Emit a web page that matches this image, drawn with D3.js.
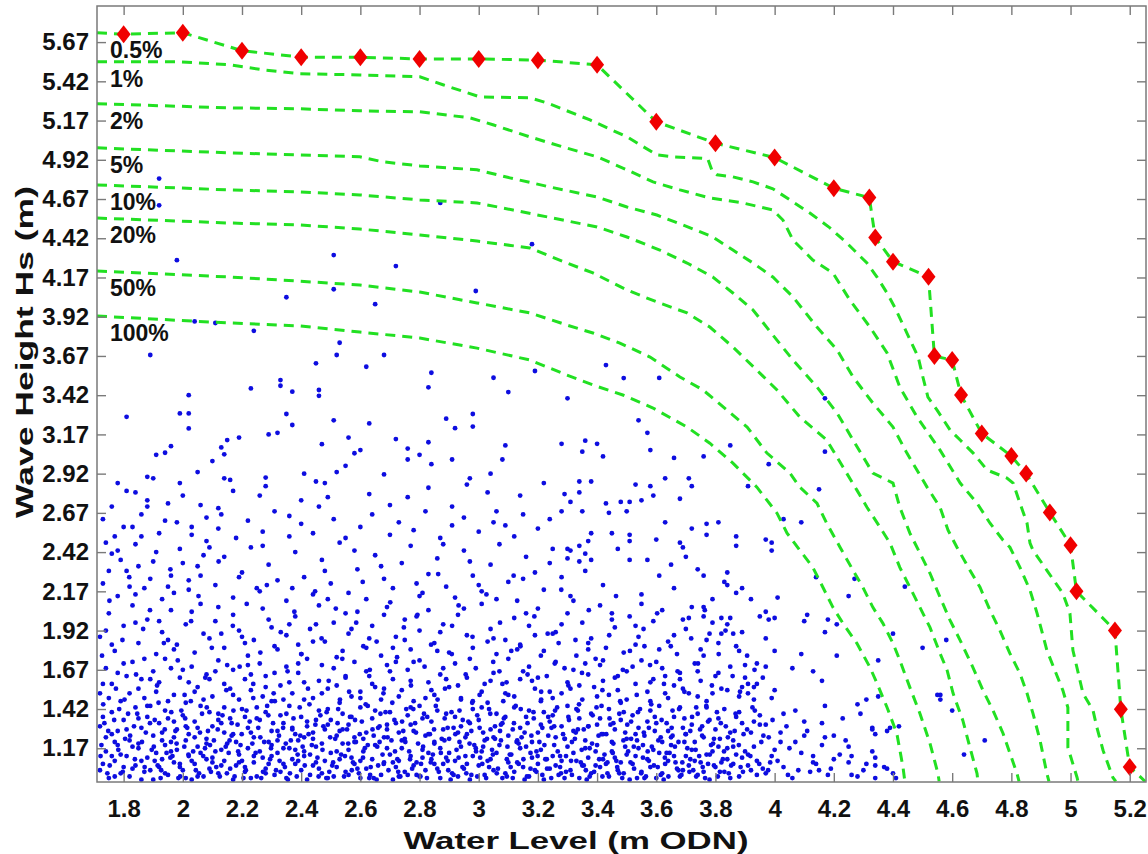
<!DOCTYPE html>
<html lang="en">
<head>
<meta charset="utf-8">
<title>Wave Height vs Water Level</title>
<script src="https://cdn.jsdelivr.net/npm/d3@7/dist/d3.min.js"></script>
<style>
  body { margin: 0; background: #fff; }
  svg { display: block; font-family: "Liberation Sans", Arial, sans-serif; }
  .axis path.domain { display: none; }
  .axis .tick line { stroke: #7a7a7a; stroke-width: 1.4; }
  .axis .tick text { font-size: 24px; font-weight: bold; fill: #111; }
  .frame { fill: none; stroke: #7a7a7a; stroke-width: 1.5; }
  .contour { fill: none; stroke: #22e022; stroke-width: 3; stroke-dasharray: 10 7; }
  .clabel { font-size: 23px; font-weight: bold; fill: #111; }
  .title { font-size: 24px; font-weight: bold; fill: #111; }
</style>
</head>
<body>
<svg id="chart" width="1148" height="854"></svg>
<script>
// axis ticks
const xTicks = [1.8, 2, 2.2, 2.4, 2.6, 2.8, 3, 3.2, 3.4, 3.6, 3.8, 4, 4.2, 4.4, 4.6, 4.8, 5, 5.2];
const yTicks = [1.17, 1.42, 1.67, 1.92, 2.17, 2.42, 2.67, 2.92, 3.17, 3.42, 3.67, 3.92, 4.17, 4.42, 4.67, 4.92, 5.17, 5.42, 5.67];

// contour names, top to bottom
const contourNames = ["0.5%", "1%", "2%", "5%", "10%", "20%", "50%", "100%"];

// red diamonds (0.5% contour vertices)
const diamonds = [[1.80,5.72],[2.0,5.73],[2.2,5.615],[2.4,5.574],[2.6,5.573],[2.8,5.563],[3.0,5.563],[3.2,5.555],[3.4,5.525],
  [3.6,5.162],[3.8,5.026],[4.0,4.934],[4.2,4.739],[4.32,4.679],[4.34,4.424],[4.40,4.271],[4.52,4.175],[4.54,3.669],
  [4.60,3.644],[4.63,3.421],[4.70,3.176],[4.80,3.032],[4.85,2.921],[4.93,2.673],[5.00,2.464],[5.02,2.17],[5.15,1.921],
  [5.17,1.418],[5.20,1.05]];

const line05 = [[1.71,5.73]].concat(diamonds, [[5.252,0.959]]);
const line1 = [[1.71,5.544],[1.99,5.544],[2.159,5.525],[2.271,5.493],[2.396,5.468],[2.598,5.461],[2.801,5.449],[2.879,5.398],
  [3.004,5.321],[3.173,5.315],[3.230,5.283],[3.376,5.174],[3.501,5.066],[3.602,4.951],[3.653,4.939],[3.737,4.932],[3.774,4.926],
  [3.79,4.843],[3.805,4.824],[3.859,4.811],[3.927,4.779],[3.994,4.735],[4.052,4.664],[4.119,4.581],[4.187,4.486],[4.244,4.390],
  [4.312,4.262],[4.346,4.173],[4.380,4.071],[4.407,3.976],[4.447,3.816],[4.485,3.663],[4.501,3.536],[4.518,3.408],[4.549,3.325],
  [4.593,3.198],[4.627,3.134],[4.671,3.051],[4.718,2.943],[4.785,2.892],[4.806,2.860],[4.829,2.732],[4.853,2.604],[4.863,2.477],
  [4.873,2.432],[4.920,2.304],[4.974,2.157],[4.998,2.030],[5.008,1.794],[5.042,1.520],[5.076,1.411],[5.089,1.303],[5.110,1.156],
  [5.143,0.984],[5.153,0.959]];
const line2 = [[1.71,5.277],[2.159,5.251],[2.396,5.245],[2.598,5.232],[2.801,5.226],[2.971,5.187],[3.048,5.143],[3.173,5.066],
  [3.284,5.002],[3.400,4.939],[3.501,4.856],[3.589,4.779],[3.680,4.728],[3.781,4.677],[3.892,4.645],[3.994,4.600],[4.028,4.536],
  [4.062,4.409],[4.129,4.281],[4.197,4.199],[4.254,4.027],[4.322,3.854],[4.380,3.689],[4.423,3.472],[4.481,3.281],[4.559,3.070],
  [4.627,2.860],[4.684,2.732],[4.728,2.604],[4.772,2.496],[4.795,2.451],[4.829,2.323],[4.863,2.177],[4.887,2.030],[4.920,1.794],
  [4.974,1.539],[4.991,1.430],[4.991,1.175],[5.022,0.984],[5.025,0.959]];
const line5 = [[1.71,4.996],[2.159,4.964],[2.396,4.951],[2.598,4.939],[2.676,4.907],[2.801,4.881],[2.994,4.856],[3.105,4.805],
  [3.240,4.747],[3.400,4.683],[3.501,4.619],[3.602,4.568],[3.690,4.505],[3.791,4.428],[3.859,4.345],[3.927,4.262],[3.994,4.173],
  [4.062,4.046],[4.143,3.854],[4.211,3.708],[4.265,3.536],[4.332,3.370],[4.400,3.217],[4.447,3.051],[4.515,2.834],[4.559,2.706],
  [4.586,2.560],[4.616,2.451],[4.660,2.304],[4.694,2.196],[4.728,2.049],[4.761,1.922],[4.795,1.775],[4.829,1.647],[4.853,1.520],
  [4.873,1.392],[4.897,1.220],[4.920,1.009],[4.927,0.959]];
const line10 = [[1.71,4.760],[2.159,4.728],[2.396,4.715],[2.598,4.696],[2.801,4.664],[2.994,4.645],[3.116,4.600],[3.284,4.536],
  [3.400,4.492],[3.501,4.428],[3.612,4.345],[3.704,4.262],[3.791,4.173],[3.859,4.071],[3.927,3.963],[3.994,3.803],[4.062,3.644],
  [4.143,3.472],[4.211,3.306],[4.265,3.134],[4.332,2.923],[4.400,2.860],[4.423,2.706],[4.457,2.541],[4.491,2.413],[4.525,2.285],
  [4.559,2.132],[4.593,1.985],[4.627,1.858],[4.670,1.686],[4.704,1.539],[4.738,1.411],[4.772,1.264],[4.819,1.009],[4.826,0.959]];
const line20 = [[1.71,4.549],[2.159,4.517],[2.396,4.505],[2.598,4.479],[2.801,4.441],[2.994,4.402],[3.173,4.358],[3.298,4.262],
  [3.386,4.199],[3.501,4.090],[3.602,4.014],[3.704,3.944],[3.781,3.854],[3.859,3.727],[3.950,3.561],[4.008,3.453],[4.085,3.281],
  [4.176,3.134],[4.231,2.962],[4.278,2.815],[4.312,2.706],[4.356,2.579],[4.390,2.477],[4.423,2.323],[4.457,2.196],[4.491,2.068],
  [4.525,1.940],[4.559,1.775],[4.583,1.666],[4.603,1.520],[4.636,1.347],[4.660,1.175],[4.684,1.009],[4.687,0.959]];
const line50 = [[1.71,4.211],[2.159,4.173],[2.328,4.154],[2.598,4.122],[2.801,4.077],[2.994,4.008],[3.173,3.944],[3.298,3.867],
  [3.386,3.816],[3.477,3.752],[3.579,3.663],[3.680,3.536],[3.758,3.453],[3.839,3.325],[3.907,3.217],[3.974,3.051],[4.052,2.923],
  [4.085,2.834],[4.143,2.732],[4.176,2.604],[4.221,2.451],[4.265,2.304],[4.298,2.196],[4.332,2.068],[4.366,1.966],[4.400,1.839],
  [4.423,1.731],[4.457,1.558],[4.491,1.392],[4.525,1.201],[4.552,1.009],[4.556,0.959]];
const line100 = [[1.71,3.924],[2.159,3.880],[2.396,3.861],[2.598,3.822],[2.801,3.784],[2.994,3.720],[3.173,3.644],[3.298,3.548],
  [3.386,3.485],[3.487,3.421],[3.589,3.338],[3.704,3.217],[3.781,3.114],[3.859,2.987],[3.940,2.834],[4.008,2.668],[4.042,2.541],
  [4.085,2.432],[4.129,2.323],[4.163,2.196],[4.197,2.068],[4.231,1.966],[4.278,1.839],[4.322,1.686],[4.346,1.584],[4.380,1.430],
  [4.413,1.264],[4.434,1.047],[4.440,0.959]];
const contourLines = [line05, line1, line2, line5, line10, line20, line50, line100];

const dotsLow = [
  [1.72,1.03],[1.74,1.15],[1.75,0.98],[1.77,1.09],[1.78,1.19],[1.79,1.01],[1.81,1.12],[1.82,0.99],[1.84,1.06],[1.85,1.17],[1.87,1.02],[1.88,1.11],[1.90,0.97],[1.91,1.14],[1.92,1.05],[1.94,1.19],[1.95,1.00],[1.97,1.08],[1.98,1.16],[2.00,1.03],
  [2.01,0.98],[2.02,1.12],[2.04,1.07],[2.05,1.18],[2.07,0.99],[2.08,1.10],[2.09,1.04],[2.11,1.15],[2.12,1.01],[2.14,1.09],[2.15,1.20],[2.17,0.97],[2.18,1.06],[2.19,1.13],[2.21,1.02],[2.22,1.17],[2.24,1.08],[2.25,0.99],[2.27,1.11],[2.28,1.04],
  [2.30,1.19],[2.31,1.00],[2.32,1.14],[2.34,1.07],[2.35,0.98],[2.37,1.10],[2.38,1.16],[2.40,1.03],[2.41,1.12],[2.42,0.97],[2.44,1.06],[2.45,1.18],[2.47,1.01],[2.48,1.09],[2.50,1.14],[2.51,0.99],[2.52,1.05],[2.54,1.20],[2.55,1.02],[2.57,1.11],
  [2.58,1.07],[2.60,0.98],[2.61,1.15],[2.62,1.04],[2.64,1.10],[2.65,1.19],[2.67,1.00],[2.68,1.08],[2.70,1.13],[2.71,0.97],[2.72,1.05],[2.74,1.17],[2.75,1.02],[2.77,1.12],[2.78,1.06],[2.80,0.99],[2.81,1.16],[2.82,1.03],[2.84,1.10],[2.85,1.20],
  [2.87,0.98],[2.88,1.07],[2.90,1.14],[2.91,1.01],[2.92,1.09],[2.94,1.18],[2.95,1.04],[2.97,0.97],[2.98,1.12],[3.00,1.06],[3.01,1.15],[3.02,1.00],[3.04,1.10],[3.05,1.03],[3.07,1.19],[3.08,0.98],[3.10,1.08],[3.11,1.13],[3.12,1.02],[3.14,1.17],
  [3.15,1.05],[3.17,0.99],[3.18,1.11],[3.20,1.07],[3.21,1.16],[3.22,0.97],[3.24,1.04],[3.25,1.12],[3.27,1.00],[3.28,1.09],[3.30,1.18],[3.31,1.03],[3.32,1.14],[3.34,0.98],[3.35,1.06],[3.37,1.11],[3.38,1.01],[3.40,1.19],[3.41,1.05],[3.42,1.10],
  [3.44,0.99],[3.45,1.15],[3.47,1.03],[3.48,1.08],[3.50,1.13],[3.51,0.97],[3.52,1.07],[3.54,1.17],[3.55,1.02],[3.57,1.10],[3.58,1.05],[3.60,0.98],[3.61,1.14],[3.62,1.01],[3.64,1.09],[3.65,1.19],[3.67,1.04],[3.68,0.99],[3.70,1.12],[3.71,1.06],
  [3.72,1.16],[3.74,1.00],[3.75,1.08],[3.77,1.13],[3.78,0.97],[3.80,1.05],[3.81,1.18],[3.83,1.02],[3.84,1.10],[3.86,1.07],[3.88,0.99],[3.90,1.15],[3.92,1.03],[3.94,1.09],[3.97,1.01],[3.99,1.12],[4.03,1.05],[4.06,0.98],[4.09,1.14],[4.12,1.02],
  [1.73,1.07],[1.76,1.12],[1.80,1.05],[1.83,1.18],[1.86,1.09],[1.89,1.03],[1.93,1.10],[1.96,1.15],[1.99,1.07],[2.03,0.97],[2.06,1.14],[2.10,1.08],[2.13,1.16],[2.16,1.04],[2.20,1.09],[2.23,0.98],[2.26,1.15],[2.29,1.07],[2.33,1.02],[2.36,1.17],
  [2.39,1.09],[2.43,1.13],[2.46,1.04],[2.49,0.98],[2.53,1.10],[2.56,1.16],[2.59,1.04],[2.63,0.98],[2.66,1.06],[2.69,1.17],[2.73,1.09],[2.76,1.00],[2.79,1.08],[2.83,1.14],[2.86,1.04],[2.89,1.11],[2.93,0.99],[2.96,1.07],[2.99,1.17],[3.03,1.09],
  [3.06,1.14],[3.09,1.01],[3.13,1.08],[3.16,1.18],[3.19,1.03],[3.23,1.10],[3.26,1.06],[3.29,0.98],[3.33,1.09],[3.36,1.17],[3.39,1.02],[3.43,1.07],[3.46,1.11],[3.49,1.01],[3.53,1.12],[3.56,0.98],[3.59,1.16],[3.63,1.07],[3.66,1.12],[3.69,1.03],
  [3.73,1.09],[3.76,1.02],[3.79,1.15],[3.82,1.08],[3.85,0.98],[3.87,1.13],[3.91,1.06],[3.93,1.18],[3.96,1.04],[4.01,1.09],[4.05,1.17],[4.08,1.03],[4.14,1.07],[4.18,1.00],[4.22,1.13],[4.28,0.99],
  [1.72,1.31],[1.74,1.24],[1.76,1.40],[1.78,1.28],[1.80,1.35],[1.82,1.22],[1.84,1.43],[1.86,1.30],[1.88,1.37],[1.90,1.25],[1.92,1.33],[1.94,1.41],[1.96,1.21],[1.98,1.29],[2.00,1.38],[2.02,1.26],[2.04,1.34],[2.06,1.44],[2.08,1.23],[2.10,1.31],
  [2.12,1.39],[2.14,1.27],[2.16,1.36],[2.18,1.21],[2.20,1.42],[2.22,1.30],[2.24,1.24],[2.26,1.35],[2.28,1.40],[2.30,1.28],[2.32,1.22],[2.34,1.33],[2.36,1.44],[2.38,1.26],[2.40,1.37],[2.42,1.31],[2.44,1.23],[2.46,1.41],[2.48,1.29],[2.50,1.35],
  [2.52,1.25],[2.54,1.39],[2.56,1.32],[2.58,1.21],[2.60,1.43],[2.62,1.27],[2.64,1.36],[2.66,1.30],[2.68,1.24],[2.70,1.40],[2.72,1.33],[2.74,1.22],[2.76,1.38],[2.78,1.28],[2.80,1.44],[2.82,1.25],[2.84,1.34],[2.86,1.41],[2.88,1.29],[2.90,1.23],
  [2.92,1.37],[2.94,1.31],[2.96,1.26],[2.98,1.42],[3.00,1.35],[3.02,1.22],[3.04,1.29],[3.06,1.39],[3.08,1.33],[3.10,1.25],[3.12,1.43],[3.14,1.30],[3.16,1.37],[3.18,1.21],[3.20,1.27],[3.22,1.40],[3.24,1.34],[3.26,1.24],[3.28,1.31],[3.30,1.44],
  [3.32,1.28],[3.34,1.36],[3.36,1.22],[3.38,1.39],[3.40,1.32],[3.42,1.26],[3.44,1.42],[3.46,1.29],[3.48,1.35],[3.50,1.23],[3.52,1.38],[3.54,1.30],[3.56,1.25],[3.58,1.41],[3.60,1.33],[3.62,1.21],[3.64,1.28],[3.66,1.37],[3.68,1.43],[3.70,1.26],
  [3.72,1.32],[3.74,1.39],[3.76,1.24],[3.78,1.35],[3.80,1.29],[3.83,1.42],[3.86,1.22],[3.89,1.33],[3.92,1.27],[3.95,1.38],[3.98,1.24],[4.04,1.31],[4.07,1.41],[4.11,1.28],[4.23,1.36],
  [1.73,1.37],[1.77,1.21],[1.81,1.29],[1.85,1.36],[1.89,1.44],[1.93,1.27],[1.97,1.34],[2.01,1.22],[2.05,1.30],[2.09,1.40],[2.13,1.33],[2.17,1.26],[2.21,1.37],[2.25,1.43],[2.29,1.21],[2.33,1.38],[2.37,1.29],[2.41,1.24],[2.45,1.35],[2.49,1.42],
  [2.53,1.28],[2.57,1.37],[2.61,1.23],[2.65,1.41],[2.69,1.32],[2.73,1.27],[2.77,1.43],[2.81,1.36],[2.85,1.21],[2.89,1.39],[2.93,1.27],[2.97,1.33],[3.01,1.43],[3.05,1.24],[3.09,1.37],[3.13,1.22],[3.17,1.41],[3.21,1.32],[3.25,1.38],[3.29,1.23],
  [3.33,1.42],[3.37,1.31],[3.41,1.36],[3.45,1.21],[3.49,1.40],[3.53,1.26],[3.57,1.34],[3.61,1.44],[3.65,1.24],[3.69,1.30],[3.73,1.21],[3.77,1.43],[3.81,1.36],[3.85,1.27],[3.88,1.40],[3.93,1.34]
];
const dotsLow2 = [
  [1.725,1.19],[1.735,1.33],[1.745,1.01],[1.76,1.26],[1.77,0.99],[1.785,1.42],[1.79,1.13],[1.805,1.23],[1.815,1.39],[1.83,1.04],[1.835,1.31],[1.85,1.20],[1.86,0.97],[1.875,1.27],[1.88,1.44],[1.895,1.16],[1.905,1.35],[1.915,1.06],[1.93,1.22],[1.94,1.01],
  [1.95,1.36],[1.965,1.12],[1.975,1.28],[1.985,0.98],[1.995,1.41],[2.005,1.18],[2.015,1.30],[2.03,1.09],[2.04,1.24],[2.05,0.99],[2.065,1.39],[2.075,1.17],[2.085,1.28],[2.095,1.02],[2.105,1.22],[2.12,1.35],[2.13,1.06],[2.14,1.43],[2.155,1.14],[2.165,1.25],
  [2.175,0.99],[2.185,1.32],[2.195,1.19],[2.21,1.05],[2.215,1.41],[2.23,1.27],[2.24,1.12],[2.25,1.36],[2.265,0.98],[2.275,1.21],[2.285,1.44],[2.295,1.10],[2.305,1.33],[2.315,1.03],[2.325,1.25],[2.34,1.17],[2.35,1.39],[2.355,0.97],[2.37,1.30],[2.38,1.07],
  [2.39,1.22],[2.395,1.43],[2.41,1.15],[2.42,1.34],[2.43,1.00],[2.44,1.27],[2.455,1.11],[2.465,1.38],[2.47,1.20],[2.485,0.98],[2.49,1.32],[2.505,1.06],[2.515,1.23],[2.525,1.42],[2.535,1.13],[2.545,0.99],[2.555,1.29],[2.565,1.37],[2.575,1.08],[2.585,1.21],
  [2.595,1.01],[2.605,1.34],[2.615,1.17],[2.625,1.44],[2.635,1.05],[2.645,1.25],[2.655,0.97],[2.665,1.31],[2.675,1.13],[2.685,1.40],[2.695,1.03],[2.705,1.22],[2.715,1.35],[2.725,1.10],[2.735,0.99],[2.745,1.28],[2.755,1.42],[2.765,1.15],[2.775,1.04],[2.785,1.33],
  [2.795,1.20],[2.805,1.07],[2.815,1.39],[2.825,0.98],[2.835,1.26],[2.845,1.13],[2.855,1.44],[2.865,1.02],[2.875,1.23],[2.885,1.36],[2.895,1.09],[2.905,0.97],[2.915,1.30],[2.925,1.16],[2.935,1.41],[2.945,1.05],[2.955,1.24],[2.965,1.34],[2.975,1.00],[2.985,1.19],
  [2.995,1.38],[3.005,1.11],[3.015,1.27],[3.025,0.98],[3.035,1.42],[3.045,1.16],[3.055,1.31],[3.065,1.04],[3.075,1.22],[3.085,1.36],[3.095,0.99],[3.105,1.13],[3.115,1.29],[3.125,1.44],[3.135,1.07],[3.145,1.24],[3.155,0.97],[3.165,1.33],[3.175,1.14],[3.185,1.40],
  [3.195,1.02],[3.205,1.21],[3.215,1.30],[3.225,1.10],[3.235,1.37],[3.245,0.98],[3.255,1.19],[3.265,1.43],[3.275,1.05],[3.285,1.26],[3.295,1.12],[3.305,1.35],[3.315,1.00],[3.325,1.23],[3.335,1.41],[3.345,1.08],[3.355,1.29],[3.365,0.97],[3.375,1.17],[3.385,1.38],
  [3.395,1.06],[3.405,1.25],[3.415,1.44],[3.425,1.13],[3.435,1.01],[3.445,1.32],[3.455,1.20],[3.465,1.09],[3.475,1.39],[3.485,0.98],[3.495,1.27],[3.505,1.15],[3.515,1.34],[3.525,1.04],[3.535,1.22],[3.545,1.42],[3.555,1.11],[3.565,0.99],[3.575,1.30],[3.585,1.18],
  [3.595,1.37],[3.605,1.05],[3.615,1.24],[3.625,0.97],[3.635,1.33],[3.645,1.14],[3.655,1.41],[3.665,1.08],[3.675,1.21],[3.685,1.00],[3.695,1.36],[3.705,1.17],[3.715,1.28],[3.725,1.03],[3.735,1.43],[3.745,1.12],[3.755,1.25],[3.765,0.98],[3.775,1.34],[3.785,1.19],
  [3.795,1.06],[3.805,1.40],[3.815,1.23],[3.825,1.10],[3.835,1.31],[3.845,1.01],[3.86,1.18],[3.87,1.37],[3.885,1.05],[3.895,1.26],[3.91,1.13],[3.925,1.43],[3.94,1.00],[3.955,1.21],[3.97,1.32],[3.985,1.08],[4.00,1.16],[4.02,1.27],[4.045,1.00],[4.07,1.21],
  [4.10,1.34],[4.13,1.12],[4.16,1.19],[4.19,1.04],[4.24,1.22],[4.31,1.07],
  [1.905,1.09],[1.925,0.98],[1.945,1.14],[1.97,1.24],[1.99,1.05],[2.01,1.31],[2.035,1.15],[2.055,1.01],[2.08,1.20],[2.10,1.11],[2.125,0.99],[2.145,1.18],[2.165,1.33],[2.19,1.08],[2.205,0.98],[2.235,1.20],[2.255,1.30],[2.28,1.01],[2.30,1.12],[2.32,1.28],
  [2.345,1.05],[2.365,1.22],[2.385,0.99],[2.405,1.18],[2.425,1.26],[2.45,1.08],[2.475,1.31],[2.495,1.02],[2.52,1.15],[2.54,1.29],[2.56,1.00],[2.58,1.24],[2.60,1.09],[2.625,1.19],[2.645,0.98],[2.665,1.21],[2.69,1.29],[2.71,1.08],[2.73,0.99],[2.75,1.23],
  [2.77,1.32],[2.79,1.00],[2.81,1.11],[2.83,1.26],[2.85,1.07],[2.87,1.17],[2.895,1.30],[2.915,1.00],[2.935,1.21],[2.955,1.12],[2.975,1.28],[2.995,0.99],[3.015,1.18],[3.035,1.05],[3.055,1.23],[3.075,1.32],[3.095,1.10],[3.115,0.98],[3.135,1.20],[3.155,1.27],
  [3.175,1.04],[3.195,1.15],[3.215,1.00],[3.235,1.25],[3.255,1.31],[3.275,1.12],[3.295,1.02],[3.315,1.21],[3.335,1.29],[3.355,1.06],[3.375,0.99],[3.395,1.15],[3.415,1.26],[3.435,1.08],[3.455,1.33],[3.475,1.01],[3.495,1.18],[3.515,1.23],[3.535,0.98],[3.555,1.19],
  [3.575,1.09],[3.595,1.28],[3.615,1.00],[3.635,1.14],[3.655,1.25],[3.675,1.03],[3.695,1.21],[3.715,1.10],[3.735,0.99],[3.755,1.31],[3.775,1.07],[3.795,1.23],[3.815,1.02],[3.84,1.17],[3.865,1.28],[3.89,1.11]
];
const dotsLow3 = [
  [1.722,1.12],[1.731,1.45],[1.748,1.28],[1.753,1.06],[1.768,1.35],[1.782,1.16],[1.797,1.02],[1.803,1.48],[1.822,1.25],[1.838,1.10],[1.846,1.39],[1.862,1.21],[1.871,1.05],[1.889,1.33],[1.902,1.18],[1.918,1.46],[1.927,1.03],[1.939,1.29],[1.958,1.11],[1.961,1.40],
  [1.979,1.20],[1.991,0.99],[2.008,1.36],[2.019,1.13],[2.027,1.47],[2.044,1.03],[2.058,1.27],[2.069,1.12],[2.081,1.43],[2.092,1.19],[2.113,1.05],[2.118,1.29],[2.134,1.38],[2.149,1.01],[2.158,1.22],[2.171,1.41],[2.187,1.15],[2.199,1.26],[2.213,1.03],[2.226,1.34],
  [2.238,1.49],[2.246,1.14],[2.262,1.24],[2.271,1.02],[2.289,1.38],[2.298,1.17],[2.311,1.47],[2.327,1.09],[2.339,1.30],[2.348,1.20],[2.362,1.01],[2.374,1.36],[2.388,1.13],[2.397,1.25],[2.412,1.06],[2.428,1.45],[2.436,1.19],[2.448,1.32],[2.459,0.99],[2.472,1.16],
  [2.486,1.40],[2.498,1.24],[2.508,1.08],[2.523,1.33],[2.531,1.48],[2.548,1.12],[2.559,1.20],[2.571,1.03],[2.582,1.35],[2.598,1.26],[2.609,1.11],[2.618,1.45],[2.633,1.00],[2.641,1.29],[2.657,1.18],[2.668,1.39],[2.679,1.07],[2.692,1.24],[2.708,1.46],[2.717,1.15],
  [2.728,1.02],[2.741,1.34],[2.752,1.21],[2.768,1.10],[2.779,1.42],[2.788,1.27],[2.803,0.99],[2.812,1.18],[2.826,1.37],[2.838,1.08],[2.849,1.29],[2.861,1.48],[2.872,1.14],[2.884,1.22],[2.897,1.03],[2.908,1.40],[2.921,1.26],[2.932,1.11],[2.946,1.35],[2.958,1.01],
  [2.969,1.20],[2.978,1.46],[2.991,1.15],[3.003,1.30],[3.012,1.07],[3.028,1.23],[3.039,1.39],[3.048,1.13],[3.061,1.01],[3.072,1.28],[3.083,1.47],[3.097,1.18],[3.108,1.05],[3.119,1.33],[3.128,1.21],[3.142,1.42],[3.151,1.10],[3.163,0.99],[3.178,1.25],[3.186,1.36],
  [3.199,1.12],[3.211,1.48],[3.222,1.19],[3.231,1.04],[3.246,1.30],[3.258,1.41],[3.267,1.15],[3.278,1.01],[3.291,1.23],[3.303,1.37],[3.312,1.09],[3.328,1.27],[3.339,1.45],[3.348,1.16],[3.362,1.03],[3.371,1.31],[3.383,1.20],[3.398,1.43],[3.407,1.10],[3.418,0.99],
  [3.431,1.26],[3.442,1.36],[3.453,1.14],[3.468,1.05],[3.478,1.47],[3.489,1.22],[3.502,1.32],[3.513,1.08],[3.524,1.18],[3.538,1.40],[3.549,1.01],[3.558,1.27],[3.571,1.15],[3.583,1.45],[3.592,1.06],[3.607,1.22],[3.618,1.35],[3.629,1.11],[3.641,0.99],[3.652,1.30],
  [3.663,1.18],[3.677,1.42],[3.688,1.08],[3.699,1.26],[3.712,1.02],[3.721,1.37],[3.733,1.16],[3.748,1.29],[3.757,1.05],[3.769,1.44],[3.781,1.13],[3.792,1.20],[3.808,0.99],[3.818,1.33],[3.829,1.15],[3.842,1.24],[3.853,1.06],[3.868,1.39],[3.879,1.19],[3.893,1.02],
  [3.907,1.29],[3.918,1.12],[3.933,1.41],[3.948,1.07],[3.962,1.25],[3.978,1.03],[3.993,1.35]
];
const dotsMid = [
  [1.72,1.52],[1.74,1.68],[1.76,1.58],[1.79,1.47],[1.81,1.63],[1.83,1.72],[1.85,1.55],[1.87,1.49],[1.90,1.66],[1.92,1.59],[1.94,1.74],[1.97,1.51],[1.99,1.62],[2.01,1.46],[2.03,1.69],[2.05,1.56],[2.08,1.64],[2.10,1.50],[2.12,1.73],[2.14,1.58],
  [2.17,1.67],[2.19,1.48],[2.21,1.61],[2.23,1.54],[2.26,1.71],[2.28,1.63],[2.30,1.47],[2.33,1.57],[2.35,1.69],[2.37,1.52],[2.39,1.65],[2.42,1.74],[2.44,1.49],[2.46,1.60],[2.49,1.55],[2.51,1.68],[2.53,1.46],[2.55,1.62],[2.58,1.72],[2.60,1.53],
  [2.62,1.66],[2.64,1.58],[2.67,1.48],[2.69,1.70],[2.71,1.61],[2.74,1.54],[2.76,1.67],[2.78,1.47],[2.80,1.73],[2.83,1.59],[2.85,1.51],[2.87,1.64],[2.90,1.56],[2.92,1.71],[2.94,1.49],[2.96,1.62],[2.99,1.68],[3.01,1.53],[3.03,1.46],[3.05,1.65],
  [3.08,1.58],[3.10,1.74],[3.12,1.50],[3.14,1.61],[3.17,1.69],[3.19,1.55],[3.21,1.47],[3.23,1.63],[3.26,1.72],[3.28,1.52],[3.30,1.59],[3.32,1.67],[3.35,1.48],[3.37,1.64],[3.39,1.56],[3.41,1.70],[3.44,1.51],[3.46,1.62],[3.48,1.46],[3.50,1.66],
  [3.53,1.58],[3.55,1.73],[3.57,1.53],[3.59,1.61],[3.62,1.68],[3.64,1.49],[3.66,1.57],[3.68,1.65],[3.71,1.52],[3.73,1.71],[3.75,1.60],[3.77,1.47],[3.80,1.63],[3.82,1.55],[3.85,1.69],[3.88,1.50],[3.90,1.62],[3.93,1.56],
  [1.75,1.49],[1.80,1.71],[1.86,1.61],[1.91,1.53],[1.96,1.68],[2.02,1.59],[2.07,1.48],[2.11,1.66],[2.16,1.55],[2.22,1.70],[2.27,1.50],[2.31,1.65],[2.36,1.59],[2.41,1.48],[2.47,1.70],[2.52,1.57],[2.57,1.50],[2.63,1.63],[2.68,1.55],[2.72,1.72],
  [2.77,1.60],[2.82,1.49],[2.88,1.68],[2.93,1.57],[2.98,1.47],[3.04,1.60],[3.09,1.52],[3.15,1.66],[3.20,1.62],[3.25,1.49],[3.31,1.55],[3.36,1.71],[3.42,1.60],[3.47,1.54],[3.52,1.69],[3.58,1.47],[3.63,1.63],[3.69,1.55],[3.74,1.66],[3.79,1.52],
  [1.72,1.88],[1.75,2.03],[1.77,1.79],[1.80,1.95],[1.83,2.08],[1.85,1.84],[1.88,1.99],[1.91,1.77],[1.93,1.91],[1.96,2.05],[1.98,1.83],[2.01,1.96],[2.04,1.78],[2.06,2.09],[2.09,1.87],[2.11,1.98],[2.14,1.81],[2.17,2.02],[2.19,1.92],[2.22,1.76],
  [2.24,1.86],[2.27,2.06],[2.30,1.94],[2.32,1.80],[2.35,1.89],[2.38,2.01],[2.40,1.77],[2.43,1.93],[2.46,2.08],[2.48,1.85],[2.51,1.97],[2.54,1.79],[2.56,1.90],[2.59,2.04],[2.61,1.82],[2.64,1.95],[2.67,1.76],[2.69,2.07],[2.72,1.88],[2.75,1.99],
  [2.77,1.80],[2.80,1.92],[2.83,2.05],[2.85,1.84],[2.88,1.96],[2.90,1.78],[2.93,2.02],[2.96,1.89],[2.98,1.81],[3.01,2.09],[3.04,1.93],[3.06,1.77],[3.09,1.86],[3.12,2.00],[3.14,1.83],[3.17,1.95],[3.20,2.06],[3.22,1.79],[3.25,1.90],[3.27,1.84],
  [3.30,2.03],[3.33,1.76],[3.35,1.97],[3.38,1.87],[3.41,2.08],[3.43,1.81],[3.46,1.94],[3.49,1.78],[3.51,2.01],[3.54,1.88],[3.56,1.82],[3.59,1.98],[3.62,2.05],[3.64,1.85],[3.67,1.77],[3.70,1.93],[3.72,2.07],[3.75,1.80],[3.78,1.90],[3.81,1.84],
  [3.84,1.96],[3.88,1.79],[1.74,1.92],[1.84,1.97],[1.95,1.86],[2.03,2.04],[2.13,1.90],[2.21,1.84],[2.29,1.99],[2.39,1.83],[2.45,1.96],[2.55,2.03],[2.63,1.87],[2.71,1.81],[2.79,2.01],[2.87,1.91],[2.95,2.06],[3.03,1.85],[3.11,1.79],[3.19,1.89],
  [3.28,1.96],[3.37,1.80],[3.45,2.03],[3.53,1.95],[3.61,1.80],[3.69,1.99],[3.77,1.86],
  [1.73,2.22],[1.76,2.41],[1.78,2.14],[1.81,2.30],[1.84,2.47],[1.87,2.19],[1.90,2.36],[1.93,2.12],[1.96,2.27],[1.99,2.44],[2.02,2.18],[2.05,2.33],[2.08,2.49],[2.11,2.21],[2.14,2.39],[2.17,2.13],[2.20,2.29],[2.23,2.45],[2.26,2.17],[2.29,2.34],
  [2.32,2.24],[2.35,2.11],[2.38,2.42],[2.41,2.26],[2.44,2.15],[2.47,2.37],[2.50,2.22],[2.53,2.48],[2.56,2.16],[2.59,2.31],[2.62,2.12],[2.65,2.40],[2.68,2.25],[2.71,2.19],[2.74,2.35],[2.77,2.46],[2.80,2.14],[2.83,2.28],[2.86,2.38],[2.89,2.20],
  [2.92,2.13],[2.95,2.43],[2.98,2.27],[3.01,2.17],[3.04,2.34],[3.07,2.47],[3.10,2.23],[3.13,2.11],[3.16,2.39],[3.19,2.29],[3.22,2.18],[3.25,2.44],[3.28,2.26],[3.31,2.14],[3.36,2.30],[3.42,2.21],[3.47,2.44],[3.55,2.15],[3.61,2.27],[3.66,2.19],
  [3.74,2.31],[3.79,2.12],[1.95,2.20],[2.07,2.40],[2.19,2.26],[2.27,2.46],[2.37,2.19],[2.48,2.30],[2.58,2.43],[2.67,2.33],[2.79,2.22],[2.88,2.47],[2.97,2.36],[3.06,2.12],[3.15,2.25],[3.24,2.35]
];
const dotsMid2 = [
  [1.73,1.58],[1.76,1.83],[1.78,1.65],[1.82,1.52],[1.84,2.15],[1.87,1.74],[1.89,1.61],[1.92,1.98],[1.95,1.47],[1.97,1.80],[2.00,1.67],[2.02,2.24],[2.04,1.53],[2.07,1.90],[2.09,1.61],[2.12,2.07],[2.15,1.70],[2.17,1.51],[2.20,1.88],[2.23,1.64],
  [2.25,2.19],[2.28,1.56],[2.31,1.82],[2.34,1.48],[2.36,1.96],[2.39,1.71],[2.41,1.59],[2.44,1.85],[2.47,1.52],[2.49,2.12],[2.52,1.75],[2.55,1.63],[2.57,1.93],[2.60,1.49],[2.62,1.81],[2.65,1.56],[2.68,2.02],[2.70,1.66],[2.73,1.50],[2.75,1.86],
  [2.78,1.72],[2.81,2.16],[2.84,1.54],[2.86,1.79],[2.89,1.61],[2.91,1.95],[2.94,1.48],[2.97,1.74],[3.00,2.21],[3.02,1.58],[3.05,1.87],[3.07,1.66],[3.10,1.51],[3.13,1.80],[3.16,2.03],[3.18,1.60],[3.21,1.76],[3.24,1.53],[3.26,1.91],[3.29,1.68],
  [3.32,2.11],[3.34,1.57],[3.37,1.84],[3.40,1.50],[3.42,1.73],[3.45,1.99],[3.47,1.63],[3.50,1.48],[3.53,1.83],[3.55,2.09],[3.58,1.59],[3.60,1.72],[3.63,1.52],[3.66,1.89],[3.68,1.61],[3.71,2.00],[3.74,1.50],[3.76,1.76],[3.79,1.97],[3.81,1.65],
  [3.84,1.54],[3.87,1.82],[3.90,1.70],[3.93,1.48],[3.96,1.62],
  [1.74,2.48],[1.75,2.30],[1.79,2.37],[1.80,2.58],[1.82,2.20],[1.85,2.33],[1.86,2.52],[1.89,2.25],[1.91,2.42],[1.94,2.62],[1.97,2.16],[2.00,2.35],[2.03,2.58],[2.06,2.27],[2.09,2.45],[2.13,2.66],[1.76,2.71],[1.84,2.80],[1.99,2.86],[2.05,2.93],
  [1.727,1.76],[1.752,2.11],[1.774,1.55],[1.796,1.86],[1.819,2.26],[1.842,1.64],[1.866,1.93],[1.889,2.05],[1.913,1.57],[1.936,1.84],[1.958,2.31],[1.983,1.73],[2.006,1.51],[2.028,1.98],[2.053,2.14],[2.076,1.62],[2.098,1.81],[2.121,2.36],[2.147,1.54],[2.169,1.95],
  [2.192,1.69],[2.216,2.09],[2.238,1.58],[2.262,1.78],[2.284,2.21],[2.307,1.52],[2.331,1.91],[2.354,1.66],[2.377,2.04],[2.401,1.77],[2.423,1.55],[2.447,2.17],[2.469,1.87],[2.493,1.60],[2.517,2.06],[2.539,1.74],[2.562,1.53],[2.586,1.97],[2.608,2.23],[2.632,1.67],
  [2.655,1.85],[2.678,1.52],[2.701,2.10],[2.724,1.75],[2.747,1.94],[2.771,1.57],[2.793,2.02],[2.817,1.69],[2.839,1.83],[2.863,2.28],[2.886,1.55],[2.909,1.77],[2.932,2.08],[2.956,1.64],[2.979,1.88],[3.003,1.51],[3.026,2.15],[3.049,1.72],[3.072,1.97],[3.094,1.59],
  [3.118,2.27],[3.141,1.82],[3.165,1.64],[3.188,2.01],[3.211,1.53],[3.233,1.90],[3.257,1.71],[3.279,2.18],[3.303,1.57],[3.327,1.86],[3.349,1.65],[3.372,2.05],[3.395,1.74],[3.418,1.54],[3.441,1.89],[3.464,2.14],[3.487,1.67],[3.511,1.79],[3.534,1.51],[3.557,1.93],
  [3.579,1.70],[3.603,2.03],[3.626,1.58],[3.649,1.82],[3.672,1.66],[3.695,1.53],[3.718,1.87],[3.741,1.71],[3.764,2.05],[3.788,1.57],[3.811,1.77],[3.834,1.92],[3.858,1.63],[3.883,1.53],[3.907,1.76],[3.932,1.67]
];
const dotsHigh = [
  [1.73,2.63],[1.77,2.52],[1.83,2.58],[1.86,2.66],[1.92,2.54],[1.98,2.61],[2.03,2.53],[2.08,2.64],[2.12,2.57],[2.18,2.51],[2.22,2.62],[2.27,2.55],[2.31,2.68],[2.36,2.52],[2.40,2.60],[2.44,2.54],[2.51,2.63],[2.55,2.51],[2.60,2.58],[2.64,2.66],
  [2.70,2.53],[2.73,2.61],[2.78,2.56],[2.82,2.68],[2.87,2.51],[2.91,2.59],[2.95,2.64],[3.00,2.55],[3.05,2.61],[3.12,2.52],[3.15,2.66],[3.20,2.57],[3.24,2.63],[2.00,2.78],[2.12,2.70],[2.40,2.75],[2.63,2.79],[2.70,2.72],[2.91,2.71],[3.14,2.78],
  [3.22,2.86],[1.78,2.43],[1.78,2.86],[1.81,2.81],[1.88,2.90],[1.90,2.89],[1.88,2.75],[1.88,2.71],[1.95,2.73],[2.06,2.72],[2.10,3.00],[2.13,3.087],[2.14,3.043],[2.15,3.134],[2.19,3.15],[2.14,2.89],[2.16,2.88],[2.17,2.81],[2.29,3.17],[2.32,3.18],
  [2.35,3.30],[2.37,3.23],[2.26,2.78],[2.28,2.895],[2.28,2.84],[2.36,2.65],[2.41,2.92],[2.45,2.87],[2.48,2.86],[2.49,2.77],[2.46,2.71],[2.47,3.108],[2.51,3.26],[2.56,3.15],[2.58,3.05],[2.60,3.07],[2.55,2.97],[2.52,2.93],[2.63,3.24],[2.68,2.915],
  [2.72,3.14],[2.76,3.08],[2.76,3.01],[2.80,3.04],[2.83,3.12],[2.84,2.98],[2.83,2.83],[2.76,2.77],[2.89,3.27],[2.92,3.21],[2.91,3.01],[2.98,3.30],[2.98,3.22],[2.96,2.85],[2.97,2.89],[3.04,2.92],[3.03,2.80],[3.08,3.01],[3.09,3.10],[3.10,3.44],
  [3.06,2.68],[3.09,2.59],[1.91,3.04],[1.94,3.053],[1.96,3.095],[1.81,3.282],[2.02,3.42],[1.99,3.304],[2.02,3.304],[2.02,3.208],[2.83,3.47],[2.23,3.463],[2.33,3.48],[2.37,3.442],[2.46,3.453],[2.46,3.416],
  [1.92,4.80],[1.92,4.63],[1.98,4.28],[2.87,4.645],[3.18,4.382],[2.51,4.313],[2.72,4.243],[2.51,4.095],[2.35,4.044],[2.99,4.084],[2.65,4.00],[2.04,3.89],[2.11,3.88],[2.24,3.83],[1.89,3.676],[2.53,3.754],[2.52,3.676],[2.68,3.676],[2.45,3.623],[2.62,3.601],
  [2.84,3.563],[3.05,3.531],[3.19,3.574],[3.43,3.612],[3.49,3.529],[2.33,3.516],[3.61,3.53],[3.30,3.40],[3.54,3.26],[3.57,3.18],[3.28,3.11],[3.36,3.13],[3.40,3.11],[3.35,3.06],[3.42,3.03],[3.58,3.07],[3.66,3.02],[3.76,3.03],[3.85,3.10],[3.98,2.98],
  [4.17,3.40],[4.17,3.06],[4.15,2.82],[4.03,2.63],[4.09,2.61],[3.91,2.84],[3.71,2.89],[3.72,2.84],[3.63,2.89],[3.53,2.85],[3.58,2.84],[3.59,2.78],[3.68,2.76],[3.34,2.87],[3.38,2.87],[3.34,2.80],[3.29,2.79],[3.31,2.74],[3.43,2.73],[3.48,2.74],
  [3.51,2.74],[3.55,2.75],[3.28,2.68],[3.35,2.68],[3.44,2.67],[3.50,2.68],[3.63,2.61],[3.72,2.57],[3.77,2.60],[3.81,2.61],[3.77,2.53],[3.87,2.52],[3.87,2.46],[3.97,2.50],[3.99,2.48],[3.99,2.43],[3.45,2.54],[3.51,2.53],[3.51,2.49],[3.60,2.50],
  [3.68,2.48],[3.69,2.45],[3.70,2.39],[3.38,2.54],[3.37,2.49],[3.30,2.44],[3.34,2.46],[3.31,2.43],[3.36,2.41],[3.30,2.38],[3.34,2.36],[3.38,2.37],[3.51,2.37],[3.57,2.37],[3.65,2.34],
  [3.76,2.27],[3.83,2.23],[3.84,2.29],[3.84,2.21],[3.87,2.16],[3.89,2.19],[3.92,2.12],[4.01,2.13],[4.14,2.26],[4.27,2.25],[4.25,2.14],[4.44,2.20],[3.76,2.07],[3.76,2.01],[3.82,2.00],[3.85,2.00],[3.95,2.01],[3.97,2.04],[3.98,1.99],[4.00,2.00],
  [4.11,2.02],[4.10,1.98],[4.18,1.99],[4.21,1.96],[4.17,1.91],[4.40,1.90],[4.58,1.86],[4.50,1.81],[3.82,1.90],[3.86,1.90],[3.89,1.91],[3.97,1.87],[4.00,1.79],[4.09,1.77],[4.21,1.76],[4.13,1.66],[4.06,1.68],[4.16,1.60],[4.35,1.73],[4.00,1.54],
  [3.97,1.69],[3.94,1.71],[3.91,1.58],[3.91,1.52],[3.89,1.56],[3.94,1.58],[3.99,1.49],[4.17,1.44],[4.28,1.45],[4.31,1.48],[4.35,1.50],[4.56,1.51],[4.60,1.41],[4.16,1.33],[4.17,1.24],[4.20,1.25],[4.10,1.25],[4.02,1.21],[4.03,1.39],[3.95,1.32],
  [4.25,1.18],[4.33,1.30],[4.34,1.26],[4.39,1.30],[4.42,1.31],[4.38,1.28],[4.33,1.15],[4.34,1.11],[4.20,1.10],[4.26,1.12],[4.25,1.08],[4.37,1.05],[4.30,1.03],[4.15,1.03],[4.13,1.08],[4.64,1.13],[4.71,1.22],[4.40,1.01],[4.29,1.39],[4.33,1.29],
  [4.34,1.06],[4.38,1.04],[4.34,0.98],[4.26,1.00],[4.41,0.98],[4.55,1.51],[4.56,1.48]
];
const dots = dotsLow.concat(dotsLow2, dotsLow3, dotsMid, dotsMid2, dotsHigh);

const margin = { left: 97, right: 2, top: 6, bottom: 72 };
const width = 1148, height = 854;
const svg = d3.select("#chart");

const x = d3.scaleLinear().domain([1.71, 5.255]).range([margin.left, width - margin.right]);
const y = d3.scaleLinear().domain([0.955, 5.90]).range([height - margin.bottom, margin.top]);
const plotW = x.range()[1] - x.range()[0];
const plotH = y.range()[0] - y.range()[1];

svg.append("defs").append("clipPath").attr("id", "plotClip")
  .append("rect").attr("x", margin.left).attr("y", margin.top).attr("width", plotW).attr("height", plotH);

const plot = svg.append("g").attr("clip-path", "url(#plotClip)");

// scatter of events
plot.append("g").selectAll("circle")
  .data(dots).enter().append("circle")
  .attr("cx", d => x(d[0]))
  .attr("cy", d => y(d[1]))
  .attr("r", 2.4)
  .attr("fill", "#0d0de0");

// return period contours
const line = d3.line().x(d => x(d[0])).y(d => y(d[1]));
plot.append("g").selectAll("path")
  .data(contourLines).enter().append("path")
  .attr("class", "contour")
  .attr("d", line);

// red diamonds on the outer contour
plot.append("g").selectAll("path")
  .data(diamonds).enter().append("path")
  .attr("d", "M0,-9L7,0L0,9L-7,0Z")
  .attr("transform", d => `translate(${x(d[0])},${y(d[1])})`)
  .attr("fill", "#f00000");

// contour labels, just under the left end of each line
svg.append("g").selectAll("text")
  .data(contourLines).enter().append("text")
  .attr("class", "clabel")
  .attr("x", d => x(d[0][0]) + 13)
  .attr("y", d => y(d[0][1]) + 17)
  .attr("dy", "0.36em")
  .text((d, i) => contourNames[i]);

// axes with inward ticks on all four sides
const fmtY = d3.format(".2f");
const fmtX = d3.format("~g");
svg.append("g").attr("class", "axis")
  .attr("transform", `translate(0,${y.range()[0]})`)
  .call(d3.axisBottom(x).tickValues(xTicks).tickFormat(fmtX).tickSizeInner(-9).tickSizeOuter(0).tickPadding(18));
svg.append("g").attr("class", "axis")
  .attr("transform", `translate(0,${y.range()[1]})`)
  .call(d3.axisTop(x).tickValues(xTicks).tickFormat("").tickSizeInner(-9).tickSizeOuter(0));
svg.append("g").attr("class", "axis")
  .attr("transform", `translate(${x.range()[0]},0)`)
  .call(d3.axisLeft(y).tickValues(yTicks).tickFormat(fmtY).tickSizeInner(-9).tickSizeOuter(0).tickPadding(8));
svg.append("g").attr("class", "axis")
  .attr("transform", `translate(${x.range()[1]},0)`)
  .call(d3.axisRight(y).tickValues(yTicks).tickFormat("").tickSizeInner(-9).tickSizeOuter(0));

svg.append("rect").attr("class", "frame")
  .attr("x", margin.left).attr("y", margin.top).attr("width", plotW).attr("height", plotH);

// axis titles (the original font runs wide, so stretch to its measured length)
svg.append("text").attr("class", "title")
  .attr("text-anchor", "middle")
  .attr("x", 576).attr("y", 849)
  .attr("textLength", 345).attr("lengthAdjust", "spacingAndGlyphs")
  .text("Water Level (m ODN)");
svg.append("text").attr("class", "title")
  .attr("text-anchor", "middle")
  .attr("transform", "translate(33,352) rotate(-90)")
  .attr("textLength", 332).attr("lengthAdjust", "spacingAndGlyphs")
  .text("Wave Height Hs (m)");
</script>
</body>
</html>
